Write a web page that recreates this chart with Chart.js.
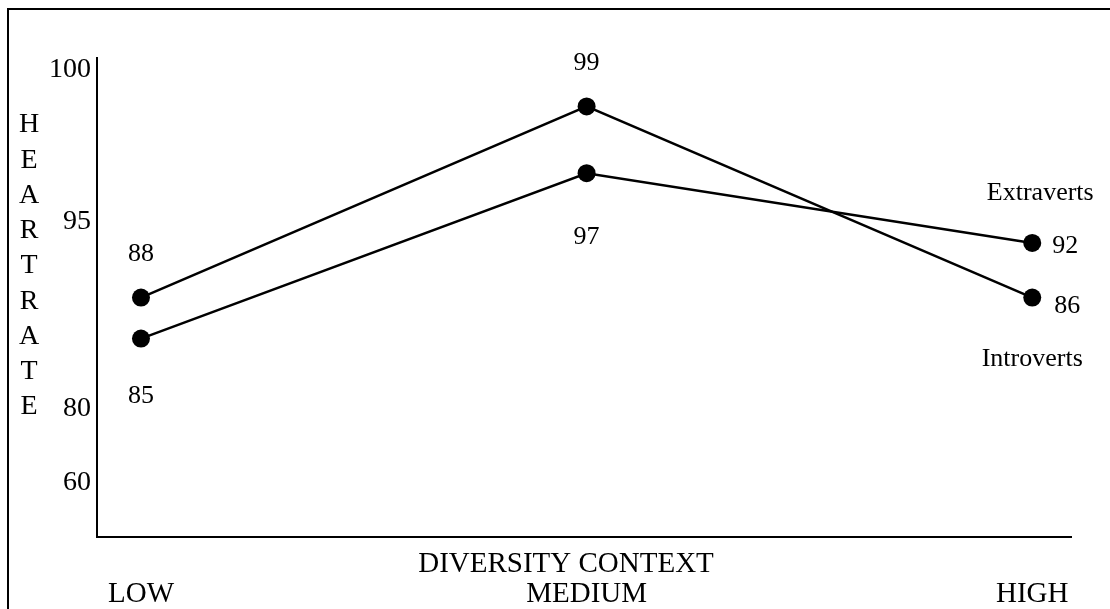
<!DOCTYPE html>
<html>
<head>
<meta charset="utf-8">
<script src="https://cdn.jsdelivr.net/npm/chart.js@4.4.1/dist/chart.umd.min.js"></script>
<style>
  body { margin: 0; background: #fff; }
  #wrap { width: 1110px; height: 609px; }
</style>
</head>
<body>
<div id="wrap"><canvas id="heartChart"></canvas></div>
<script>
const categories = ['LOW', 'MEDIUM', 'HIGH'];
const yTickValues = [60, 80, 95, 100];
const introvertsLevels = [88.9, 98.8, 88.9];
const extravertsLevels = [85.6, 96.6, 93.3];
// numbers printed next to the points
const introvertsLabels = [88, 99, 86];
const extravertsLabels = [85, 97, 92];
const axisLetters = 'HEARTRATE'.split('');

const SERIF = "'Liberation Serif', 'Times New Roman', serif";

// the printed axis is not evenly spaced, so map values piecewise
const yStops = [[45.6, 0], [60, 0.113], [80, 0.269], [95, 0.658], [100, 0.975], [100.4, 1]];

class PiecewiseScale extends Chart.LinearScale {
    static id = 'piecewise';
    static defaults = Chart.LinearScale.defaults;

    buildTicks() {
        return yTickValues.map(v => ({ value: v }));
    }

    fracFor(v) {
        for (let i = 1; i < yStops.length; i++) {
            const [v0, f0] = yStops[i - 1];
            const [v1, f1] = yStops[i];
            if (v <= v1 || i === yStops.length - 1) {
                return f0 + (v - v0) / (v1 - v0) * (f1 - f0);
            }
        }
        return 0;
    }

    getPixelForValue(v) {
        return this.bottom - this.fracFor(v) * (this.bottom - this.top);
    }

    getValueForPixel(p) {
        const f = (this.bottom - p) / (this.bottom - this.top);
        for (let i = 1; i < yStops.length; i++) {
            const [v0, f0] = yStops[i - 1];
            const [v1, f1] = yStops[i];
            if (f <= f1 || i === yStops.length - 1) {
                return v0 + (f - f0) / (f1 - f0) * (v1 - v0);
            }
        }
        return 0;
    }
}
Chart.register(PiecewiseScale);

const toPoints = (levels) => levels.map((y, i) => ({ x: i, y: y }));

const annotate = {
    id: 'annotate',
    beforeDraw(chart) {
        const ctx = chart.ctx;
        ctx.save();
        ctx.strokeStyle = '#000';
        ctx.lineWidth = 2;
        ctx.beginPath();
        ctx.moveTo(8, chart.height);
        ctx.lineTo(8, 9);
        ctx.lineTo(chart.width, 9);
        ctx.stroke();
        ctx.restore();
    },
    afterDraw(chart) {
        const ctx = chart.ctx;
        const area = chart.chartArea;
        ctx.save();
        ctx.fillStyle = '#000';
        ctx.textAlign = 'center';
        ctx.textBaseline = 'middle';

        // stacked y-axis title
        ctx.font = '28px ' + SERIF;
        const top = 125, bottom = 407;
        axisLetters.forEach((ch, i) => {
            ctx.fillText(ch, 29, top + i * (bottom - top) / (axisLetters.length - 1));
        });

        // x-axis title sits between the axis line and the category names
        ctx.font = '29px ' + SERIF;
        ctx.fillText('DIVERSITY CONTEXT', 566, area.bottom + 27);

        // value labels
        ctx.font = '26px ' + SERIF;
        const place = [
            [[0, -43], [0, -43], [34, 9]],
            [[0, 58], [0, 64], [32, 3]]
        ];
        const texts = [introvertsLabels, extravertsLabels];
        chart.data.datasets.forEach((ds, d) => {
            const meta = chart.getDatasetMeta(d);
            meta.data.forEach((pt, i) => {
                const [dx, dy] = place[d][i];
                ctx.textAlign = dx ? 'left' : 'center';
                ctx.fillText(String(texts[d][i]), pt.x + (dx ? dx - 12 : 0), pt.y + dy);
            });
        });

        // series names near the right end
        ctx.textAlign = 'center';
        ctx.font = '26px ' + SERIF;
        const lastA = chart.getDatasetMeta(0).data[2];
        const lastB = chart.getDatasetMeta(1).data[2];
        ctx.fillText('Extraverts', lastB.x + 8, lastB.y - 50);
        ctx.fillText('Introverts', lastA.x, lastA.y + 62);
        ctx.restore();
    }
};

new Chart(document.getElementById('heartChart'), {
    type: 'line',
    data: {
        datasets: [
            {
                label: 'Introverts',
                data: toPoints(introvertsLevels),
                borderColor: '#000',
                backgroundColor: '#000',
                borderWidth: 2.5,
                pointRadius: 9,
                pointBorderWidth: 0,
                tension: 0
            },
            {
                label: 'Extraverts',
                data: toPoints(extravertsLevels),
                borderColor: '#000',
                backgroundColor: '#000',
                borderWidth: 2.5,
                pointRadius: 9,
                pointBorderWidth: 0,
                tension: 0
            }
        ]
    },
    options: {
        responsive: true,
        maintainAspectRatio: false,
        animation: false,
        layout: { padding: { top: 58, right: 37, left: 0, bottom: 0 } },
        plugins: {
            legend: { display: false },
            tooltip: { enabled: false }
        },
        scales: {
            x: {
                type: 'linear',
                min: -0.0987,
                max: 2.089,
                afterBuildTicks: (scale) => {
                    scale.ticks = categories.map((c, i) => ({ value: i }));
                },
                afterFit: (scale) => { scale.height = 72; },
                grid: { display: false, drawTicks: false },
                border: { display: true, color: '#000', width: 2 },
                ticks: {
                    padding: 40,
                    maxRotation: 0,
                    color: '#000',
                    font: { family: SERIF, size: 29 },
                    callback: (v) => categories[v]
                }
            },
            y: {
                type: 'piecewise',
                min: 45.6,
                max: 100.4,
                afterFit: (scale) => { scale.width = 97; },
                grid: { display: false, drawTicks: false },
                border: { display: true, color: '#000', width: 2 },
                ticks: {
                    padding: 6,
                    color: '#000',
                    font: { family: SERIF, size: 28 },
                    callback: (v) => String(v)
                }
            }
        }
    },
    plugins: [annotate]
});
</script>
</body>
</html>
